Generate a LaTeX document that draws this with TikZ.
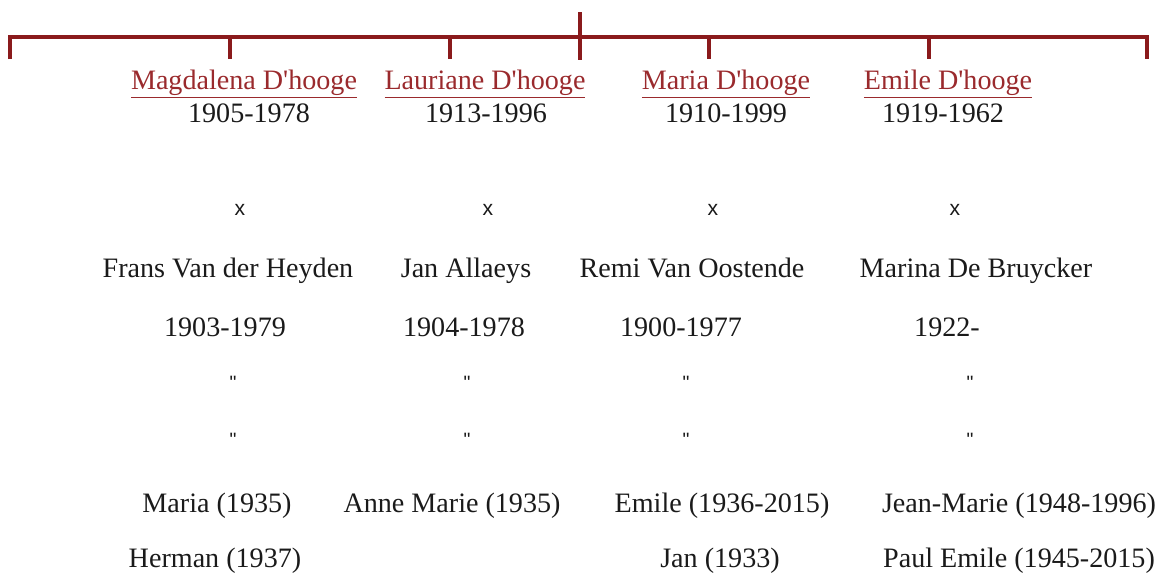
\documentclass[tikz,border=0pt]{standalone}
\usepackage{fontspec}
\setmainfont{Liberation Serif}
\newfontfamily\marksans{Liberation Sans}
\usepackage{xcolor}
\usepackage{tikz}
\definecolor{treered}{HTML}{8A1A1C}
\definecolor{namered}{HTML}{9A2A2D}
\definecolor{inkgrey}{HTML}{1A1A1A}

\begin{document}
\begin{tikzpicture}[x=0.02cm,y=-0.02cm,
    branch/.style={draw=treered,line width=1.9pt},
    person/.style={anchor=base,inner sep=0pt,text=inkgrey,font=\fontsize{16}{19}\selectfont},
    child/.style={person,text=namered},
    sign/.style={inner sep=0pt,text=inkgrey,font=\marksans\fontsize{11}{13}\selectfont}]
  \useasboundingbox (0,0) rectangle (1158,578);
  % tree bar
  \coordinate (root) at (580,12);
  \coordinate (hub) at (580,37);
  \coordinate (barL) at (10,37);
  \coordinate (barR) at (1147,37);
  \coordinate (endL) at (10,59);
  \coordinate (endR) at (1147,59);
  \coordinate (hubB) at (580,60);
  \foreach \n/\x in {a/230,b/450,c/709,d/929} {
    \coordinate (t\n) at (\x,37);
    \coordinate (b\n) at (\x,59);
  }
  \draw[branch] (endL) -- (barL) -- (barR) -- (endR);
  \draw[branch] (root) -- (hubB);
  \foreach \n in {a,b,c,d} \draw[branch] (t\n) -- (b\n);

  % children of the family
  \node[child] (magda) at (244,89) {\underline{Magdalena D\textquotesingle hooge}};
  \node[child] (lauri) at (485,89) {\underline{Lauriane D\textquotesingle hooge}};
  \node[child] (maria) at (726,89) {\underline{Maria D\textquotesingle hooge}};
  \node[child] (emile) at (948,89) {\underline{Emile D\textquotesingle hooge}};
  \node[person] (magdaY) at (249,122) {1905-1978};
  \node[person] (lauriY) at (486,122) {1913-1996};
  \node[person] (mariaY) at (726,122) {1910-1999};
  \node[person] (emileY) at (943,122) {1919-1962};

  % married to
  \foreach \n/\x in {a/240,b/488,c/713,d/955}
    \node[sign,font=\marksans\fontsize{12}{14}\selectfont] (x\n) at (\x,210) {x};
  \node[person] (frans) at (228,277) {Frans Van der Heyden};
  \node[person] (jan) at (466,277) {Jan Allaeys};
  \node[person] (remi) at (692,277) {Remi Van Oostende};
  \node[person] (marina) at (976,277) {Marina De Bruycker};
  \node[person] (fransY) at (225,336) {1903-1979};
  \node[person] (janY) at (464,336) {1904-1978};
  \node[person] (remiY) at (681,336) {1900-1977};
  \node[person] (marinaY) at (947,336) {1922-};
  \foreach \n/\x in {a/233,b/467,c/686,d/970} {
    \node[sign] (q\n) at (\x,383) {"};
    \node[sign] (r\n) at (\x,440) {"};
  }

  % grandchildren
  \node[person] (mariaK) at (217,512) {Maria (1935)};
  \node[person] (anneK) at (452,512) {Anne Marie (1935)};
  \node[person] (emileK) at (722,512) {Emile (1936-2015)};
  \node[person] (jeanK) at (1019,512) {Jean-Marie (1948-1996)};
  \node[person] (hermanK) at (215,567) {Herman (1937)};
  \node[person] (janK) at (720,567) {Jan (1933)};
  \node[person] (paulK) at (1019,567) {Paul Emile (1945-2015)};
\end{tikzpicture}
\end{document}
